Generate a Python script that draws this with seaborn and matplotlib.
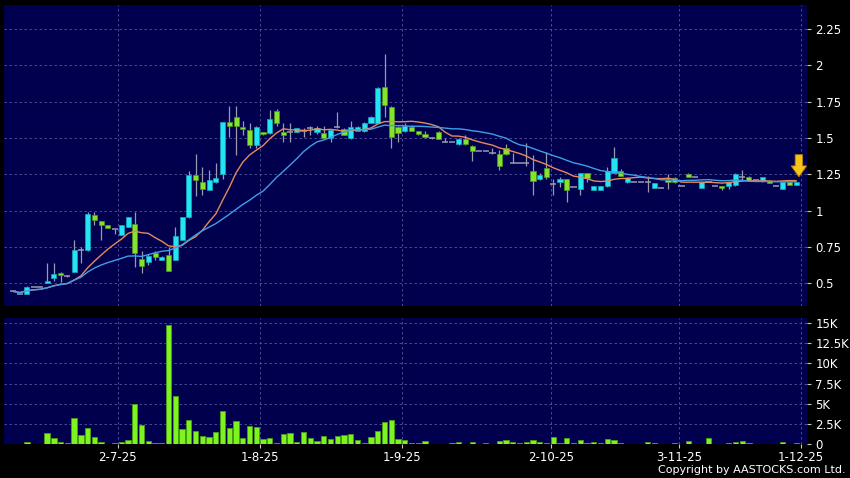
import numpy as np
import pandas as pd
import matplotlib
matplotlib.use("Agg")
import matplotlib.pyplot as plt
import seaborn as sns

# 일봉 데이터
opens = [0.445, 0.43, 0.43, 0.475, 0.475, 0.50, 0.535, 0.573, 0.55, 0.58,
         0.733, 0.728, 0.968, 0.93, 0.90, 0.875, 0.83, 0.886, 0.909, 0.665,
         0.646, 0.71, 0.664, 0.694, 0.664, 0.80, 0.957, 1.247, 1.194, 1.144,
         1.194, 1.253, 1.61, 1.646, 1.577, 1.555, 1.452, 1.539, 1.537, 1.685,
         1.543, 1.543, 1.543, 1.548, 1.566, 1.543, 1.536, 1.498, 1.573, 1.56,
         1.498, 1.55, 1.548, 1.605, 1.605, 1.851, 1.714, 1.577, 1.548, 1.577,
         1.548, 1.527, 1.498, 1.543, 1.47, 1.47, 1.457, 1.493, 1.447, 1.41,
         1.41, 1.395, 1.39, 1.434, 1.33, 1.33, 1.325, 1.276, 1.217, 1.297,
         1.185, 1.197, 1.217, 1.16, 1.151, 1.258, 1.144, 1.144, 1.167, 1.262,
         1.276, 1.197, 1.197, 1.197, 1.197, 1.155, 1.155, 1.212, 1.228, 1.173,
         1.253, 1.23, 1.155, 1.197, 1.167, 1.167, 1.171, 1.178, 1.235, 1.235,
         1.212, 1.207, 1.207, 1.171, 1.149, 1.194, 1.178]
highs = [0.445, 0.43, 0.48, 0.475, 0.475, 0.64, 0.64, 0.58, 0.56, 0.80,
         0.75, 0.99, 0.99, 0.93, 0.90, 0.875, 0.90, 0.957, 0.99, 0.72,
         0.70, 0.72, 0.69, 0.75, 0.89, 0.96, 1.27, 1.39, 1.30, 1.28,
         1.33, 1.61, 1.72, 1.72, 1.62, 1.60, 1.58, 1.54, 1.69, 1.70,
         1.605, 1.60, 1.57, 1.57, 1.58, 1.58, 1.58, 1.56, 1.68, 1.57,
         1.62, 1.58, 1.61, 1.65, 1.85, 2.08, 1.72, 1.58, 1.60, 1.59,
         1.55, 1.55, 1.51, 1.55, 1.50, 1.47, 1.50, 1.52, 1.45, 1.41,
         1.41, 1.43, 1.42, 1.46, 1.40, 1.33, 1.468, 1.38, 1.26, 1.406,
         1.22, 1.23, 1.22, 1.16, 1.26, 1.26, 1.167, 1.167, 1.30, 1.436,
         1.29, 1.23, 1.197, 1.197, 1.24, 1.19, 1.155, 1.25, 1.23, 1.173,
         1.26, 1.23, 1.20, 1.197, 1.167, 1.17, 1.20, 1.26, 1.28, 1.24,
         1.212, 1.23, 1.21, 1.171, 1.20, 1.20, 1.20]
lows = [0.445, 0.43, 0.43, 0.475, 0.475, 0.50, 0.515, 0.51, 0.545, 0.58,
        0.64, 0.72, 0.90, 0.80, 0.88, 0.84, 0.83, 0.886, 0.61, 0.573,
        0.63, 0.66, 0.66, 0.584, 0.66, 0.80, 0.95, 1.10, 1.11, 1.14,
        1.19, 1.22, 1.51, 1.38, 1.52, 1.43, 1.43, 1.52, 1.53, 1.58,
        1.475, 1.475, 1.54, 1.51, 1.52, 1.53, 1.49, 1.475, 1.57, 1.52,
        1.49, 1.55, 1.54, 1.60, 1.60, 1.646, 1.43, 1.475, 1.54, 1.55,
        1.52, 1.50, 1.49, 1.49, 1.47, 1.47, 1.45, 1.45, 1.345, 1.41,
        1.41, 1.39, 1.28, 1.38, 1.33, 1.33, 1.31, 1.11, 1.21, 1.22,
        1.11, 1.16, 1.06, 1.16, 1.11, 1.20, 1.14, 1.14, 1.16, 1.26,
        1.24, 1.19, 1.197, 1.197, 1.13, 1.155, 1.155, 1.15, 1.19, 1.173,
        1.235, 1.23, 1.155, 1.197, 1.167, 1.14, 1.15, 1.17, 1.21, 1.21,
        1.212, 1.20, 1.19, 1.171, 1.149, 1.178, 1.178]
closes = [0.445, 0.43, 0.475, 0.475, 0.475, 0.52, 0.568, 0.557, 0.55, 0.733,
          0.733, 0.977, 0.934, 0.90, 0.88, 0.875, 0.90, 0.957, 0.71, 0.62,
          0.692, 0.683, 0.683, 0.584, 0.824, 0.957, 1.247, 1.212, 1.149, 1.212,
          1.228, 1.61, 1.58, 1.58, 1.56, 1.452, 1.577, 1.525, 1.628, 1.60,
          1.52, 1.543, 1.566, 1.548, 1.566, 1.566, 1.50, 1.555, 1.573, 1.52,
          1.577, 1.577, 1.605, 1.646, 1.845, 1.726, 1.505, 1.536, 1.582, 1.55,
          1.527, 1.505, 1.498, 1.493, 1.47, 1.47, 1.493, 1.457, 1.41, 1.41,
          1.41, 1.395, 1.31, 1.388, 1.33, 1.33, 1.325, 1.207, 1.247, 1.235,
          1.185, 1.217, 1.144, 1.16, 1.258, 1.228, 1.167, 1.167, 1.27, 1.361,
          1.24, 1.228, 1.197, 1.197, 1.197, 1.19, 1.155, 1.194, 1.194, 1.173,
          1.235, 1.23, 1.197, 1.197, 1.167, 1.155, 1.194, 1.253, 1.235, 1.212,
          1.212, 1.23, 1.19, 1.171, 1.194, 1.178, 1.194]
# 거래량 (천 주)
volumes_k = [0.04, 0, 0.3, 0, 0, 1.33, 0.8, 0.3, 0.12, 3.2,
             1.08, 1.95, 0.83, 0.2, 0, 0.08, 0.2, 0.45, 4.93, 2.4,
             0.4, 0.12, 0.12, 14.7, 5.97, 1.9, 3.0, 1.66, 0.95, 0.91,
             1.45, 4.1, 2.0, 2.86, 0.79, 2.24, 2.15, 0.66, 0.79, 0.12,
             1.24, 1.33, 0.2, 1.53, 0.79, 0.37, 1.0, 0.58, 0.95, 1.08,
             1.2, 0.5, 0.12, 0.91, 1.62, 2.74, 3.0, 0.66, 0.5, 0.12,
             0.12, 0.37, 0.05, 0.05, 0, 0.17, 0.2, 0, 0.29, 0,
             0.08, 0, 0.41, 0.46, 0.25, 0.17, 0.29, 0.54, 0.2, 0.12,
             0.87, 0.08, 0.79, 0.17, 0.46, 0.08, 0.29, 0.08, 0.62, 0.54,
             0.17, 0.05, 0, 0, 0.25, 0.17, 0, 0.05, 0.08, 0,
             0.33, 0.05, 0, 0.79, 0, 0.05, 0.12, 0.2, 0.41, 0.12,
             0, 0, 0, 0.05, 0.25, 0.05, 0.08]

date_labels = ["2-7-25", "1-8-25", "1-9-25", "2-10-25", "3-11-25", "1-12-25"]
date_pos = [15.5, 36.5, 57.6, 79.7, 98.6, 116.7]
price_ticks = [0.5, 0.75, 1, 1.25, 1.5, 1.75, 2, 2.25]
price_labels = ["0.5", "0.75", "1", "1.25", "1.5", "1.75", "2", "2.25"]
vol_ticks = [0, 2.5, 5, 7.5, 10, 12.5, 15]
vol_labels = ["0", "2.5K", "5K", "7.5K", "10K", "12.5K", "15K"]

# 색상
NAVY = "#00004e"
GRID = "#55559a"
CYAN = "#22e4f2"
CYAN_EDGE = "#15aabb"
GREEN = "#84e32c"
GREEN_EDGE = "#4f9a1c"
WICK = "#9a9aae"
VGREEN = "#7ef41e"
VEDGE = "#4aa012"
ORANGE = "#e8895c"
BLUE = "#3e9fe6"

df = pd.DataFrame({"open": opens, "high": highs, "low": lows,
                   "close": closes, "volume": volumes_k})
df["idx"] = np.arange(len(df))
df["ma10"] = df["close"].rolling(10, min_periods=1).mean()
df["ma20"] = df["close"].rolling(20, min_periods=1).mean()

sns.set_style("dark")
fig = plt.figure(figsize=(8.5, 4.78), dpi=100, facecolor="black")
ax = fig.add_axes([4 / 850, 1 - 306 / 478, 803 / 850, 301 / 478])
axv = fig.add_axes([4 / 850, 1 - 444 / 478, 803 / 850, 126 / 478])

# 캔들
up = df[df["close"] > df["open"]]
down = df[df["close"] < df["open"]]
flat = df[df["close"] == df["open"]]
ax.vlines(df["idx"], df["low"], df["high"], color=WICK, lw=0.9, zorder=2)
ax.bar(up["idx"], up["close"] - up["open"], bottom=up["open"], width=0.75,
       color=CYAN, edgecolor=CYAN_EDGE, linewidth=0.5, zorder=3)
ax.bar(down["idx"], down["open"] - down["close"], bottom=down["close"], width=0.75,
       color=GREEN, edgecolor=GREEN_EDGE, linewidth=0.5, zorder=3)
ax.hlines(flat["close"], flat["idx"] - 0.45, flat["idx"] + 0.45, color=WICK, lw=1.1, zorder=3)

# 이동평균선
sns.lineplot(data=df, x="idx", y="ma10", color=ORANGE, lw=1.0, ax=ax, zorder=4)
sns.lineplot(data=df, x="idx", y="ma20", color=BLUE, lw=1.0, ax=ax, zorder=4)

# 마지막 봉 화살표
ax.arrow(116.4, 1.385, 0, -0.152, width=1.1, head_width=2.3, head_length=0.075,
         length_includes_head=True, fc="#f6c419", ec="#b57d00", lw=0.6, zorder=6)

# 거래량
sns.barplot(data=df, x="idx", y="volume", native_scale=True, width=0.8,
            color=VGREEN, saturation=1, edgecolor=VEDGE, linewidth=0.6,
            errorbar=None, ax=axv, zorder=3)

for a in (ax, axv):
    a.set_facecolor(NAVY)
    for s in a.spines.values():
        s.set_visible(False)
    a.set_xlim(-1.38, 117.6)
    a.set_xticks(date_pos)
    a.grid(True, color=GRID, linestyle=(0, (3, 3)), linewidth=0.6)
    a.set_axisbelow(True)
    a.yaxis.tick_right()
    a.tick_params(axis="y", colors="#c8c8c8", labelcolor="white",
                  length=3, width=0.8, labelsize=8.5, pad=3, right=True, left=False)
    a.set_xlabel("")
    a.set_ylabel("")

ax.set_ylim(0.345, 2.414)
ax.set_yticks(price_ticks)
ax.set_yticklabels(price_labels)
ax.tick_params(axis="x", length=0, labelbottom=False)

axv.set_ylim(0, 15.62)
axv.set_yticks(vol_ticks)
axv.set_yticklabels(vol_labels)
axv.set_xticklabels(date_labels)
axv.tick_params(axis="x", colors="#c8c8c8", labelcolor="white", length=3,
                width=0.8, labelsize=8.5, pad=2, bottom=True)

fig.text(846 / 850, 1 - 470 / 478, "Copyright by AASTOCKS.com Ltd.",
         ha="right", va="center", color="white", fontsize=8)

fig.savefig("out.png", dpi=100, facecolor="black")
